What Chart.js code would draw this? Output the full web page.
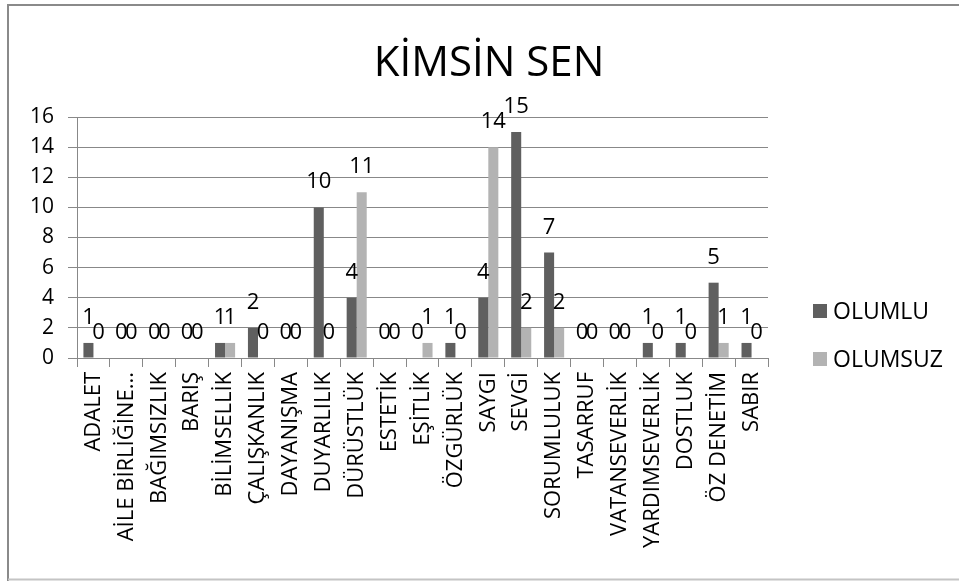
<!DOCTYPE html>
<html>
<head>
<meta charset="utf-8">
<script src="https://cdn.jsdelivr.net/npm/chart.js@4"></script>
<style>
  html, body { margin: 0; padding: 0; background: #fff; }
  #wrap { width: 959px; height: 581px; }
</style>
</head>
<body>
<div id="wrap"><canvas id="chart" width="959" height="581"></canvas></div>
<script>
// Kategoriler ve seriler
const categories = ['ADALET', 'AİLE BİRLİĞİNE...', 'BAĞIMSIZLIK', 'BARIŞ', 'BİLİMSELLİK', 'ÇALIŞKANLIK',
  'DAYANIŞMA', 'DUYARLILIK', 'DÜRÜSTLÜK', 'ESTETİK', 'EŞİTLİK', 'ÖZGÜRLÜK', 'SAYGI', 'SEVGİ',
  'SORUMLULUK', 'TASARRUF', 'VATANSEVERLİK', 'YARDIMSEVERLİK', 'DOSTLUK', 'ÖZ DENETİM', 'SABIR'];
const olumlu  = [1, 0, 0, 0, 1, 2, 0, 10, 4, 0, 0, 1, 4, 15, 7, 0, 0, 1, 1, 5, 1];
const olumsuz = [0, 0, 0, 0, 1, 0, 0, 0, 11, 0, 1, 0, 14, 2, 2, 0, 0, 0, 0, 1, 0];
const seriesNames = ['OLUMLU', 'OLUMSUZ'];
const seriesColors = ['#5f5f5f', '#b3b3b3'];
const yTicks = [0, 2, 4, 6, 8, 10, 12, 14, 16];
const chartTitle = 'KİMSİN SEN';

const FONT = "'Open Sans', 'DejaVu Sans', sans-serif";

// frame + title (title is centred on the whole frame, not on the plot)
const framePlugin = {
  id: 'frame',
  beforeDraw(chart) {
    const ctx = chart.ctx;
    ctx.save();
    ctx.fillStyle = '#fff';
    ctx.fillRect(0, 0, chart.width, chart.height);
    ctx.strokeStyle = '#8a8a8a';
    ctx.lineWidth = 2;
    ctx.beginPath();
    ctx.moveTo(8, 581);
    ctx.lineTo(8, 5);
    ctx.lineTo(959, 5);
    ctx.stroke();
    ctx.strokeStyle = '#c4c4c4';
    ctx.beginPath();
    ctx.moveTo(8, 579.5);
    ctx.lineTo(959, 579.5);
    ctx.stroke();

    ctx.fillStyle = '#000';
    ctx.font = '42px ' + FONT;
    ctx.textAlign = 'center';
    ctx.textBaseline = 'alphabetic';
    ctx.fillText(chartTitle, 489, 76);
    ctx.restore();
  }
};

// values above the bars
const valueLabels = {
  id: 'valueLabels',
  afterDatasetsDraw(chart) {
    const ctx = chart.ctx;
    ctx.save();
    ctx.font = '22px ' + FONT;
    ctx.fillStyle = '#000';
    ctx.textAlign = 'center';
    ctx.textBaseline = 'alphabetic';
    chart.data.datasets.forEach((ds, i) => {
      chart.getDatasetMeta(i).data.forEach((bar, j) => {
        ctx.fillText(String(ds.data[j]), bar.x, bar.y - 19);
      });
    });
    ctx.restore();
  }
};

// legend on the right
const sideLegend = {
  id: 'sideLegend',
  afterDraw(chart) {
    const ctx = chart.ctx;
    ctx.save();
    ctx.font = '23px ' + FONT;
    ctx.textBaseline = 'middle';
    ctx.textAlign = 'left';
    seriesNames.forEach((name, i) => {
      const y = 311 + i * 48;
      ctx.fillStyle = seriesColors[i];
      ctx.fillRect(813, y - 7, 14, 14);
      ctx.fillStyle = '#000';
      ctx.fillText(name, 833, y + 1);
    });
    ctx.restore();
  }
};

new Chart(document.getElementById('chart'), {
  type: 'bar',
  data: {
    labels: categories,
    datasets: [
      { label: seriesNames[0], data: olumlu, backgroundColor: seriesColors[0] },
      { label: seriesNames[1], data: olumsuz, backgroundColor: seriesColors[1] }
    ]
  },
  options: {
    responsive: false,
    animation: false,
    layout: { padding: { left: 0, right: 191, top: 117, bottom: 0 } },
    datasets: { bar: { categoryPercentage: 0.61, barPercentage: 1.0 } },
    plugins: {
      legend: { display: false },
      tooltip: { enabled: false },
      title: { display: false }
    },
    scales: {
      x: {
        grid: { drawOnChartArea: false, drawTicks: true, tickLength: 9, color: '#888', offset: true },
        border: { color: '#888' },
        ticks: {
          color: '#000',
          font: { family: FONT, size: 22 },
          minRotation: 90,
          maxRotation: 90,
          autoSkip: false,
          padding: 5
        },
        afterFit(scale) { scale.height = 223; }
      },
      y: {
        min: 0,
        max: 16,
        afterBuildTicks(scale) { scale.ticks = yTicks.map(v => ({ value: v })); },
        grid: { color: '#888', tickLength: 9 },
        border: { color: '#888' },
        ticks: {
          color: '#000',
          font: { family: FONT, size: 21 },
          padding: 14
        },
        afterFit(scale) { scale.width = 77; }
      }
    }
  },
  plugins: [framePlugin, valueLabels, sideLegend]
});
</script>
</body>
</html>
